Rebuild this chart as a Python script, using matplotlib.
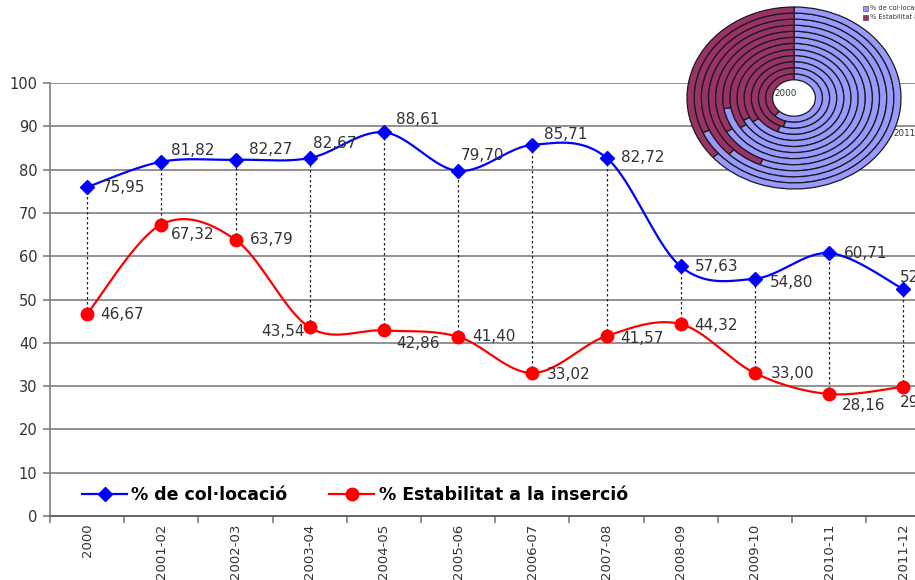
import numpy as np
import matplotlib
matplotlib.use('Agg')
import matplotlib.pyplot as plt
from matplotlib.lines import Line2D
from matplotlib.patches import Rectangle, Circle

categories = ['2000', '2001-02', '2002-03', '2003-04', '2004-05', '2005-06',
              '2006-07', '2007-08', '2008-09', '2009-10', '2010-11', '2011-12']
colocacio = [75.95, 81.82, 82.27, 82.67, 88.61, 79.70, 85.71, 82.72, 57.63, 54.80, 60.71, 52.38]
estabilitat = [46.67, 67.32, 63.79, 43.54, 42.86, 41.40, 33.02, 41.57, 44.32, 33.00, 28.16, 29.85]
yticks = [0, 10, 20, 30, 40, 50, 60, 70, 80, 90, 100]
series_names = ['% de col·locació', '% Estabilitat a la inserció']

# label offsets in pixels (dx, dy, ha)
blue_off = [(15, 0, 'left'), (10, 11, 'left'), (13, 10, 'left'), (3, 15, 'left'),
            (12, 13, 'left'), (3, 15, 'left'), (12, 10, 'left'), (15, 0, 'left'),
            (14, 0, 'left'), (15, -4, 'left'), (15, 0, 'left'), (-3, 12, 'left')]
red_off = [(13, -1, 'left'), (10, -10, 'left'), (14, 0, 'left'), (-5, -4, 'right'),
           (12, -13, 'left'), (14, 0, 'left'), (15, -1, 'left'), (14, -2, 'left'),
           (14, -1, 'left'), (16, 0, 'left'), (13, -11, 'left'), (-3, -16, 'left')]

BLUE = '#0000FF'
RED = '#FF0000'
TXT = '#333333'


def fmt(v):
    return f'{v:.2f}'.replace('.', ',')


def smooth(x, y, n=40):
    pts = np.column_stack([x, y]).astype(float)
    out = [pts[0]]
    for i in range(len(pts) - 1):
        p0 = pts[i - 1] if i > 0 else pts[i]
        p1 = pts[i]
        p2 = pts[i + 1]
        p3 = pts[i + 2] if i + 2 < len(pts) else pts[i + 1]
        c1 = p1 + (p2 - p0) / 6.0
        c2 = p2 - (p3 - p1) / 6.0
        t = np.linspace(0, 1, n)[1:, None]
        seg = (1 - t) ** 3 * p1 + 3 * (1 - t) ** 2 * t * c1 + 3 * (1 - t) * t ** 2 * c2 + t ** 3 * p2
        out.extend(seg)
    out = np.array(out)
    return out[:, 0], out[:, 1]


W, H = 915, 580
fig = plt.figure(figsize=(W / 100, H / 100), dpi=100)
fig.patch.set_facecolor('white')

ax = fig.add_axes([50 / W, 64 / H, 890.4 / W, 433 / H])
x = np.arange(len(categories))
ax.set_xlim(-0.5, len(categories) - 0.5)
ax.set_ylim(0, 100)

ax.set_yticks(yticks)
ax.set_yticklabels([str(t) for t in yticks], fontsize=10.5, color=TXT)
ax.yaxis.grid(True, color='#7f7f7f', lw=1.2)
ax.set_axisbelow(True)

ax.set_xticks(x)
ax.set_xticklabels(categories, rotation=90, fontsize=9.5, color=TXT, va='top')
ax.set_xticks(np.arange(-0.5, len(categories), 1), minor=True)
ax.tick_params(axis='x', which='major', length=0, pad=5.5)
ax.tick_params(axis='x', which='minor', length=5, width=1.2, color='#7f7f7f', direction='out')
ax.tick_params(axis='y', length=5, width=1.2, color='#7f7f7f', pad=4)

for s in ['top', 'right']:
    ax.spines[s].set_visible(False)
ax.spines['left'].set_color('#7f7f7f')
ax.spines['left'].set_linewidth(1.2)
ax.spines['bottom'].set_color('#666666')
ax.spines['bottom'].set_linewidth(1.4)

# high-low drop lines
for i in range(len(categories)):
    ax.plot([x[i], x[i]], [estabilitat[i], colocacio[i]], color='#222222',
            lw=0.9, ls=(0, (2, 2)), zorder=2)

bx, by = smooth(x, colocacio)
rx, ry = smooth(x, estabilitat)
ax.plot(bx, by, color=BLUE, lw=1.6, zorder=3)
ax.plot(rx, ry, color=RED, lw=1.6, zorder=3)
ax.plot(x, colocacio, ls='none', marker='D', ms=7, color=BLUE, zorder=4)
ax.plot(x, estabilitat, ls='none', marker='o', ms=9, color=RED, zorder=4)

for i, v in enumerate(colocacio):
    dx, dy, ha = blue_off[i]
    ax.annotate(fmt(v), (x[i], v), xytext=(dx, dy), textcoords='offset pixels',
                ha=ha, va='center', fontsize=11, color=TXT, zorder=5)
for i, v in enumerate(estabilitat):
    dx, dy, ha = red_off[i]
    ax.annotate(fmt(v), (x[i], v), xytext=(dx, dy), textcoords='offset pixels',
                ha=ha, va='center', fontsize=11, color=TXT, zorder=5)

handles = [Line2D([], [], color=BLUE, lw=1.6, marker='D', ms=7),
           Line2D([], [], color=RED, lw=1.6, marker='o', ms=9)]
fig.legend(handles, series_names, loc='center left', bbox_to_anchor=(82 / W, 1 - 495 / H),
           ncol=2, frameon=False, prop=dict(weight='bold', size=12.5),
           handlelength=2.6, handletextpad=0.25, columnspacing=2.4,
           borderpad=0, borderaxespad=0)

# doughnut inset
dax = fig.add_axes([687 / W, (H - 189) / H, 214 / W, 182 / H])
ring_w = 0.8 / len(categories)
for i in range(len(categories)):
    dax.pie([colocacio[i], estabilitat[i]], radius=0.2 + (i + 1) * ring_w,
            startangle=90, counterclock=False, colors=['#9999FF', '#993366'],
            wedgeprops=dict(width=ring_w, edgecolor='#1a1a1a', linewidth=0.9))
dax.add_patch(Circle((0, 0), 0.2, facecolor='white', edgecolor='none', zorder=0.5))
dax.set_aspect('auto')
dax.set_xlim(-1, 1)
dax.set_ylim(-1, 1)
dax.axis('off')
dax.text(-0.08, 0.05, categories[0], fontsize=6.3, color=TXT, ha='center', va='center')
dax.text(0.93, -0.385, categories[-1], fontsize=6.3, color=TXT, ha='left', va='center')

# doughnut legend
for j, (col, name) in enumerate(zip(['#9999FF', '#993366'], series_names)):
    yc = 8 + j * 9
    fig.add_artist(Rectangle((863 / W, 1 - (yc + 2.5) / H), 5 / W, 5 / H,
                             transform=fig.transFigure, facecolor=col,
                             edgecolor='#333333', lw=0.4))
    fig.text(870 / W, 1 - yc / H, name, fontsize=4.8, color=TXT, ha='left', va='center')

fig.savefig('out.png', dpi=100)
